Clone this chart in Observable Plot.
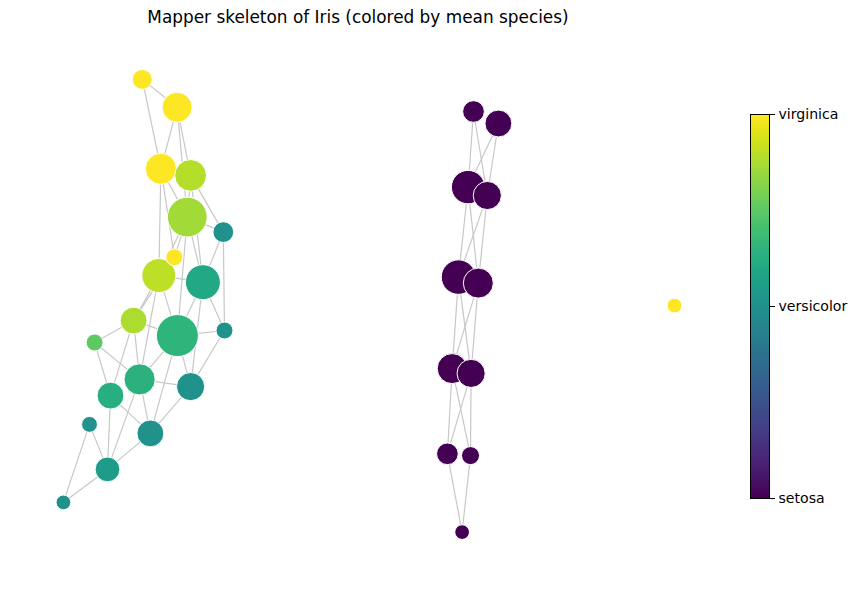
<!DOCTYPE html>
<html><head><meta charset="utf-8">
<script src="https://cdn.jsdelivr.net/npm/d3@7"></script>
<script src="https://cdn.jsdelivr.net/npm/@observablehq/plot@0.6"></script>
<style>
html,body{margin:0;padding:0;background:#fff;}
#wrap{position:relative;width:858px;height:590px;overflow:hidden;font-family:"DejaVu Sans",sans-serif;}
#title{position:absolute;left:0;top:7px;width:716px;text-align:center;font-size:16.9px;color:#000;white-space:nowrap;}
#main{position:absolute;left:0;top:0;}
#cbar{position:absolute;left:700px;top:0;}
</style></head><body>
<div id="wrap"><div id="main"></div><div id="cbar"></div><div id="title">Mapper skeleton of Iris (colored by mean species)</div></div>
<script>
// Mapper nodes: layout coordinates, member counts, mean species (0 setosa, 1 versicolor, 2 virginica)
const nodeIds = ["A","B","C","D","E","F","H","G","I","J","K","L","M","N","O","P","Q","R","S","T",
                 "a","b","c","d","e","f","g","h","i","j","k","iso"];
const nodeX = [-0.754,-0.638,-0.692,-0.593,-0.604,-0.484,-0.699,-0.647,-0.552,-0.783,-0.637,-0.480,-0.913,-0.763,-0.593,-0.860,-0.930,-0.727,-0.870,-1.017,
               0.350,0.433,0.332,0.396,0.300,0.366,0.279,0.342,0.263,0.340,0.312,1.020];
const nodeY = [0.737,0.644,0.439,0.417,0.278,0.228,0.083,0.144,0.061,-0.067,-0.117,-0.100,-0.140,-0.263,-0.287,-0.317,-0.413,-0.443,-0.563,-0.673,
               0.630,0.590,0.378,0.350,0.078,0.058,-0.227,-0.243,-0.511,-0.517,-0.772,-0.017];
const nodeSize = [11,25,27,28,44,12,32,8,34,20,49,8,8,27,22,20,7,20,17,6,
                  13,20,31,22,33,25,25,22,13,9,6,6];
const nodeSpecies = [2,2,2,1.78,1.72,1.0,1.8,2,1.2,1.75,1.3,1.0,1.5,1.28,1.0,1.25,1.0,1.0,1.1,1.0,
                     0,0,0,0,0,0,0,0,0,0,0,2];
const edges = [
  ["A","B"],["A","C"],["B","C"],["B","D"],["B","E"],["C","E"],["C","G"],["C","H"],
  ["D","E"],["D","F"],["D","I"],["E","F"],["E","G"],["E","H"],["E","I"],["E","K"],
  ["F","I"],["F","L"],["G","H"],["G","J"],["H","I"],["H","J"],["H","K"],["H","N"],
  ["I","K"],["I","L"],["I","O"],["J","K"],["J","M"],["J","N"],["J","P"],["K","L"],
  ["K","N"],["K","O"],["K","R"],["L","O"],["M","N"],["M","P"],["N","O"],["N","R"],
  ["N","S"],["O","R"],["P","R"],["P","S"],["Q","S"],["Q","T"],["R","S"],["S","T"],
  ["a","c"],["a","d"],["b","c"],["b","d"],["c","d"],["c","e"],["c","f"],["d","e"],["d","f"],
  ["e","f"],["e","g"],["e","h"],["f","g"],["f","h"],["g","h"],["g","i"],["g","j"],["h","i"],["h","j"],
  ["i","k"],["j","k"]
];
const speciesTicks = [0,1,2];
const speciesNames = ["setosa","versicolor","virginica"];

const nodes = nodeIds.map((id,i)=>({id, x:nodeX[i], y:nodeY[i], size:nodeSize[i], species:nodeSpecies[i]}));
const byId = new Map(nodes.map(d=>[d.id,d]));
const links = edges.map(([s,t])=>({a:byId.get(s), b:byId.get(t)}));

const colorOpts = {type:"linear", scheme:"viridis", domain:[0,2]};

const main = Plot.plot({
  width:858, height:590, margin:0,
  style:{background:"transparent"},
  x:{domain:[-368/300, 490/300], axis:null},
  y:{domain:[-290/300, 1], axis:null},
  r:{type:"sqrt", domain:[0,49], range:[0,21]},
  color:colorOpts,
  marks:[
    Plot.link(links,{x1:d=>d.a.x, y1:d=>d.a.y, x2:d=>d.b.x, y2:d=>d.b.y, stroke:"#c8c8c8", strokeWidth:1.2}),
    Plot.dot(nodes,{x:"x", y:"y", r:"size", fill:"species", stroke:"white", strokeWidth:1, sort:null})
  ]
});
document.getElementById("main").appendChild(main);

const step = 0.01;
const stops = d3.range(0, 2, step);
const cbar = Plot.plot({
  width:158, height:590,
  marginLeft:50, marginRight:89, marginTop:114, marginBottom:92,
  style:{background:"transparent", fontFamily:"DejaVu Sans", fontSize:"14.1px", color:"#000"},
  x:{domain:[0,1], axis:null},
  y:{domain:[0,2], axis:"right", ticks:speciesTicks, tickFormat:d=>speciesNames[d], label:null, tickSize:5, tickPadding:4},
  color:colorOpts,
  marks:[
    Plot.rect(stops,{x1:0, x2:1, y1:d=>d, y2:d=>Math.min(2, d+step*1.6), fill:d=>d+step/2, shapeRendering:"crispEdges"}),
    Plot.frame({stroke:"black", strokeWidth:1})
  ]
});
document.getElementById("cbar").appendChild(cbar);
</script>
</body></html>
